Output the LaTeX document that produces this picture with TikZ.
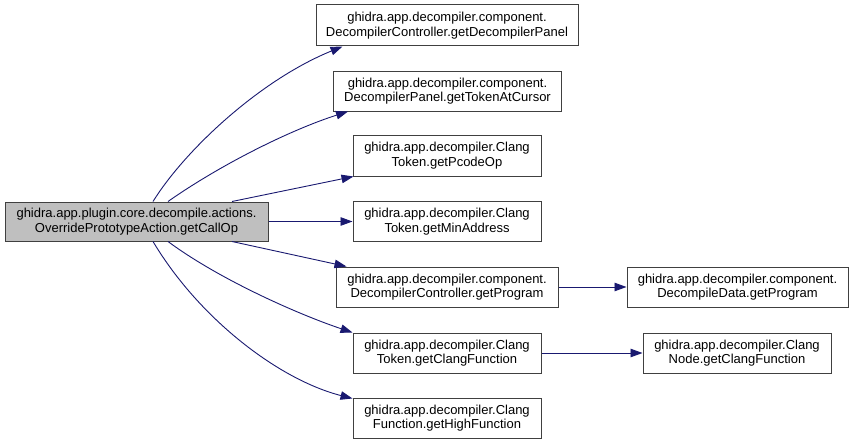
\documentclass[tikz,border=0pt]{standalone}
\usepackage{fontspec}
\setmainfont{Liberation Sans}
\usetikzlibrary{arrows.meta}
\definecolor{edgecol}{HTML}{191970}
\definecolor{rootfill}{HTML}{BFBFBF}
\definecolor{boxline}{HTML}{404040}
\begin{document}
\begin{tikzpicture}[x=1pt,y=-1pt,
  box/.style={draw=boxline,line width=1pt,fill=white,inner sep=0pt,minimum height=40pt,
    align=center,font=\fontsize{13}{14.5}\selectfont},
  rootbox/.style={box,fill=rootfill},
  edge/.style={draw=edgecol,line width=0.9pt,-{Triangle[length=12pt,width=8.5pt]}}]
\useasboundingbox (0,0) rectangle (853,444);
\node[rootbox,minimum width=263pt,minimum height=39pt] (root) at (136.5,221.5) {ghidra.app.plugin.core.decompile.actions.\\OverridePrototypeAction.getCallOp};
\node[box,minimum width=262pt,minimum height=41pt] (n1) at (447,25.5) {ghidra.app.decompiler.component.\\DecompilerController.getDecompilerPanel};
\node[box,minimum width=228pt] (n2) at (447.5,91) {ghidra.app.decompiler.component.\\DecompilerPanel.getTokenAtCursor};
\node[box,minimum width=188pt,minimum height=41pt] (n3) at (447,155.5) {ghidra.app.decompiler.Clang\\Token.getPcodeOp};
\node[box,minimum width=188pt] (n4) at (447,221.5) {ghidra.app.decompiler.Clang\\Token.getMinAddress};
\node[box,minimum width=222pt] (n5) at (447,287) {ghidra.app.decompiler.component.\\DecompilerController.getProgram};
\node[box,minimum width=221pt] (n6) at (737.5,287) {ghidra.app.decompiler.component.\\DecompileData.getProgram};
\node[box,minimum width=188pt] (n7) at (447,353) {ghidra.app.decompiler.Clang\\Token.getClangFunction};
\node[box,minimum width=188pt] (n8) at (737,353) {ghidra.app.decompiler.Clang\\Node.getClangFunction};
\node[box,minimum width=188pt] (n9) at (447,418) {ghidra.app.decompiler.Clang\\Function.getHighFunction};

\draw[edge] ([xshift=16.5pt]root.north) .. controls (185,150) and (260,80) .. ([xshift=27pt]n1.south west);
\draw[edge] ([xshift=31.5pt]root.north) .. controls (220,165) and (290,130) .. ([xshift=15pt]n2.south west);
\draw[edge] ([xshift=95.5pt]root.north) -- ([xshift=1pt]n3.south west);
\draw[edge] (root) -- (n4);
\draw[edge] ([xshift=95.5pt]root.south) -- ([xshift=11pt]n5.north west);
\draw[edge] ([xshift=31.5pt]root.south) .. controls (220,280) and (300,315) .. (n7.north west);
\draw[edge] ([xshift=16.5pt]root.south) .. controls (200,320) and (280,380) .. ([yshift=-1pt]n9.north west);
\draw[edge] (n5) -- (n6);
\draw[edge] (n7) -- (n8);
\end{tikzpicture}
\end{document}
